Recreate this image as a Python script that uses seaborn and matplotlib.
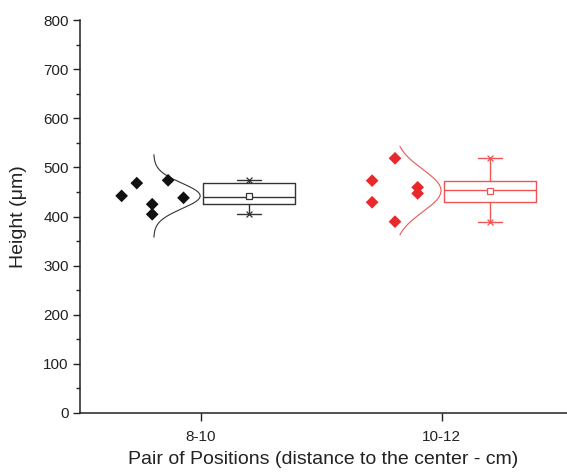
# plot.py
# Box chart with data overlay and normal curves: height per pair of positions
# Saves out.png at ~567x472 px

import numpy as np
import pandas as pd
import seaborn as sns
import matplotlib.pyplot as plt
from matplotlib.ticker import MultipleLocator

# Data
groups = ["8-10", "10-12"]
heights_8_10 = [442, 468, 425, 404.5, 473.7, 438]
heights_10_12 = [473, 429, 518.5, 389.5, 459.4, 447]
values = [heights_8_10, heights_10_12]

# Layout of the overlaid points (column index per point, column offsets per group)
point_cols = [[0, 1, 2, 2, 3, 4], [0, 0, 1, 1, 2, 2]]
col_offsets = [[-0.329, -0.266, -0.202, -0.136, -0.072], [-0.289, -0.194, -0.100]]
curve_half_span = [84, 90]

point_colors = {"8-10": "#111111", "10-12": "#e8282a"}
line_colors = {"8-10": "#333333", "10-12": "#ee5555"}

rows = []
for i, (g, vals) in enumerate(zip(groups, values)):
    for v, c in zip(vals, point_cols[i]):
        rows.append({"group": g, "height": v, "xpos": i + col_offsets[i][c]})
df = pd.DataFrame(rows)

sns.set_style("ticks")
plt.rcParams["font.family"] = ["Liberation Sans", "DejaVu Sans"]

fig = plt.figure(figsize=(5.67, 4.72), dpi=100)
ax = fig.add_axes([0.141, 0.125, 0.859, 0.8326])

# data points
sns.scatterplot(data=df, x="xpos", y="height", hue="group", palette=point_colors,
                marker="D", s=42, edgecolor="none", legend=False, ax=ax, zorder=3)


def tukey_stats(vals):
    v = np.sort(np.asarray(vals, float))
    n = len(v)
    lo, hi = v[: (n + 1) // 2], v[n // 2:]
    return {"med": np.median(v), "q1": np.median(lo), "q3": np.median(hi),
            "whislo": v.min(), "whishi": v.max(), "mean": v.mean(), "fliers": []}


for i, (g, vals) in enumerate(zip(groups, values)):
    col = line_colors[g]
    st = tukey_stats(vals)
    ax.bxp([st], positions=[i + 0.2], widths=0.383, capwidths=0.1,
           showmeans=True, showfliers=False, manage_ticks=False,
           boxprops=dict(color=col, lw=1.0), medianprops=dict(color=col, lw=1.0),
           whiskerprops=dict(color=col, lw=1.0), capprops=dict(color=col, lw=1.0),
           meanprops=dict(marker="s", markerfacecolor="white", markeredgecolor=col,
                          markersize=4, markeredgewidth=0.9))
    ax.scatter([i + 0.2, i + 0.2], [st["whislo"], st["whishi"]], marker="x",
               s=18, color=col, linewidths=0.9, zorder=4)

    # normal curve
    mu, sd = np.mean(vals), np.std(vals, ddof=1)
    yy = np.linspace(mu - curve_half_span[i], mu + curve_half_span[i], 200)
    dens = np.exp(-0.5 * ((yy - mu) / sd) ** 2)
    ax.plot(i - 0.196 + 0.193 * dens, yy, color=col, lw=0.8)

ax.set_xlim(-0.502, 1.52)
ax.set_ylim(0, 800)
ax.set_xticks(range(len(groups)))
ax.set_xticklabels(groups)
ax.yaxis.set_major_locator(MultipleLocator(100))
ax.yaxis.set_minor_locator(MultipleLocator(50))
ax.tick_params(axis="both", which="major", length=5, width=1, labelsize=11,
               colors="#222222", pad=3)
ax.tick_params(axis="x", which="major", length=6, pad=6)
ax.tick_params(axis="y", which="minor", length=3, width=1)
for s in ["left", "bottom"]:
    ax.spines[s].set_linewidth(1.1)
    ax.spines[s].set_color("#222222")
sns.despine(ax=ax)

ax.set_xlabel("Pair of Positions (distance to the center - cm)", fontsize=14,
              labelpad=5, color="#222222")
ax.set_ylabel("Height (\u03bcm)", fontsize=14, labelpad=12, color="#222222")

fig.savefig("out.png", dpi=100)
plt.close(fig)
print("Saved: out.png")
